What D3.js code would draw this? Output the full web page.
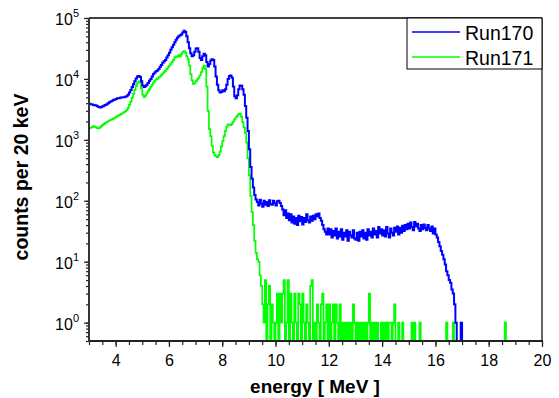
<!DOCTYPE html>
<html><head><meta charset="utf-8">
<script src="https://cdn.jsdelivr.net/npm/d3@7"></script>
<style>body{margin:0;background:#fff}svg{display:block}</style>
</head><body>
<svg id="c" width="559" height="398"></svg>
<script>
// bins: first bin energy and bin width (MeV)
const binStart = 3.0;
const binWidth = 0.05;
const seriesNames = ["Run170", "Run171"];
// Run170 counts per bin from 3.00 MeV
const run170 = [
3900,3850,3800,3750,3700,3650,3550,3450,3400,3450,
3550,3650,3750,3850,4000,4150,4250,4400,4500,4600,
4700,4800,4800,4900,4950,5000,5000,5100,5200,5500,
6000,6600,7400,8200,9200,10200,11000,11200,10800,9200,
7800,7400,7600,8000,8600,9300,10000,11000,12000,12800,
13400,13800,14500,15800,17000,18500,19500,20500,22500,24500,
27000,30000,33000,36500,40000,44000,47500,50000,52000,53500,
58000,61500,59000,50000,40000,32000,26500,23500,24500,28000,
31500,32000,28000,22000,20500,23500,26000,24500,19000,16000,
17500,20000,21000,20500,16000,11000,8000,6500,6000,6100,
6500,6300,6800,8000,10000,11200,11400,10500,7500,5200,
4800,5400,6800,7800,7700,6800,5500,3600,2300,1400,
700,360,230,165,125,105,96,84,104,90,
80,100,86,96,82,102,88,86,100,91,
84,98,100,92,82,72,58,70,52,62,
48,60,44,55,42,52,40,57,46,54,
41,52,45,60,48,44,55,47,57,50,
60,55,62,52,47,40,34,31,28,35,
28,34,25,32,27,35,24,31,26,34,
23,30,26,33,22,31,27,25,33,24,
23,30,22,31,26,33,24,30,23,34,
27,31,25,35,28,32,25,37,29,34,
27,33,26,37,29,25,35,30,27,36,
31,38,28,36,30,39,32,40,34,42,
35,44,37,33,45,38,42,35,32,40,
34,41,36,33,40,35,32,38,29,35,
28,25,21,18,15,13,11,9,7,6,
5,4.5,3.5,3,2,1,0,0,0,1,
0
];
// Run171 counts per bin from 3.00 MeV
const run171 = [
1550,1580,1620,1680,1650,1600,1560,1540,1600,1680,
1760,1830,1900,1960,2020,2080,2130,2180,2230,2300,
2380,2450,2520,2600,2680,2760,2850,2950,3100,3350,
3750,4250,4900,5700,6600,7600,8500,9100,8800,7000,
5500,5000,5300,5800,6300,6800,7400,8000,8700,9300,
9800,10100,10500,11000,11600,12200,12900,13600,14500,15500,
16500,17600,19000,20500,22500,23500,23000,24500,23500,25500,
27500,28500,27000,23500,21000,16500,12000,9500,8300,8500,
9200,9800,10500,11500,13000,15000,16600,14500,7500,3000,
1500,1150,800,620,560,540,520,560,640,780,
950,1150,1400,1650,1800,1780,1750,1850,2000,2200,
2350,2500,2650,2700,2400,1950,1600,1300,900,500,
260,120,65,40,22,14,11,10,6,4,
2,1,5,0,2,4,0,2,1,0,
1,3,0,3,1,3,5,0,1,5,
0,3,1,0,3,1,0,3,2,0,
3,1,0,2,1,0,4,5,0,1,
0,2,1,0,2,3,0,1,2,0,
2,0,1,2,0,2,1,0,2,0,
1,0,1,0,1,0,1,0,2,1,
0,1,0,1,0,1,0,1,0,1,
3,0,1,0,1,0,1,0,0,1,
0,1,0,1,0,1,1,0,1,2,
0,0,1,0,0,1,0,0,0,0,
0,0,1,0,1,0,0,0,1,0,
0,0,0,0,0,0,0,0,0,0,
0,0,0,0,0,0,0,0,1,0,
0,0,0,1,0,0,0,0,0,0,
0,0,0,0,0,0,0,0,0,0,
0,0,0,0,0,0,0,0,0,0,
0,0,0,0,0,0,0,0,0,0,
0,0,1,0
];
const xTickValues = [4, 6, 8, 10, 12, 14, 16, 18, 20];
const yTickExponents = [0, 1, 2, 3, 4, 5];
const colors = ["#0000ff", "#00ff00"];

const svg = d3.select("#c");
const L = 89, R = 542, T = 18, B = 341;
const x = d3.scaleLinear().domain([3, 20]).range([L, R]);
const y = d3.scaleLog().domain([0.5, 1e5]).range([B, T]);
const font = "Arial, 'Liberation Sans', sans-serif";

svg.append("defs").append("clipPath").attr("id", "clip")
  .append("rect").attr("x", L).attr("y", T).attr("width", R - L).attr("height", B - T);

const toPts = arr => arr.map((v, i) => [binStart + i * binWidth, v]);
const line = d3.line()
  .x(d => x(d[0]))
  .y(d => y(Math.max(d[1], 0.3)))
  .curve(d3.curveStepAfter);

const g = svg.append("g").attr("clip-path", "url(#clip)");
g.append("path").datum(toPts(run171)).attr("d", line)
  .attr("fill", "none").attr("stroke", colors[1]).attr("stroke-width", 1.7);
g.append("path").datum(toPts(run170)).attr("d", line)
  .attr("fill", "none").attr("stroke", colors[0]).attr("stroke-width", 2);

// frame top/right
svg.append("line").attr("x1", L).attr("x2", R).attr("y1", T).attr("y2", T)
  .attr("stroke", "#000").attr("stroke-width", 1.5);
svg.append("line").attr("x1", R).attr("x2", R).attr("y1", T).attr("y2", B)
  .attr("stroke", "#000").attr("stroke-width", 1.2);

// x axis
const xMinor = d3.range(3, 20.001, 0.5);
const xa = svg.append("g").attr("transform", `translate(0,${B})`);
xa.call(d3.axisBottom(x).tickValues(xMinor).tickSize(4).tickFormat(""))
  .call(s => s.select(".domain").remove());
xa.selectAll("line").attr("stroke", "#222").attr("stroke-width", 1.2);
const xm = svg.append("g").attr("transform", `translate(0,${B})`);
xm.call(d3.axisBottom(x).tickValues(xTickValues).tickSize(6).tickPadding(8).tickFormat(d3.format("d")))
  .call(s => s.select(".domain").remove());
xm.selectAll("line").attr("stroke", "#222").attr("stroke-width", 1.2);
xm.selectAll("text").attr("font-family", font).attr("font-size", 16).attr("fill", "#000");
svg.append("line").attr("x1", L - 1).attr("x2", R + 1).attr("y1", B).attr("y2", B)
  .attr("stroke", "#222").attr("stroke-width", 2);

// y axis
const yMinor = [];
for (let e = -1; e < 5; e++) for (let m = 1; m < 10; m++) {
  const v = m * Math.pow(10, e);
  if (v >= 0.5 && v <= 1e5) yMinor.push(v);
}
yMinor.push(1e5);
const ya = svg.append("g").attr("transform", `translate(${L},0)`);
ya.call(d3.axisLeft(y).tickValues(yMinor).tickSize(3).tickFormat(""))
  .call(s => s.select(".domain").remove());
ya.selectAll("line").attr("stroke", "#222").attr("stroke-width", 1.2);
const ym = svg.append("g").attr("transform", `translate(${L},0)`);
ym.call(d3.axisLeft(y).tickValues(yTickExponents.map(e => Math.pow(10, e))).tickSize(5).tickFormat(""))
  .call(s => s.select(".domain").remove());
ym.selectAll("line").attr("stroke", "#222").attr("stroke-width", 1.2);
svg.append("line").attr("x1", L).attr("x2", L).attr("y1", T).attr("y2", B + 1)
  .attr("stroke", "#333").attr("stroke-width", 2);

const yl = svg.append("g");
yTickExponents.forEach(e => {
  const t = yl.append("text").attr("x", 79).attr("y", y(Math.pow(10, e)) + 7)
    .attr("text-anchor", "end").attr("font-family", font).attr("fill", "#000");
  t.append("tspan").attr("font-size", 16).text("10");
  t.append("tspan").attr("font-size", 11).attr("dy", -8).text(String(e));
});

// titles
svg.append("text").attr("x", 315).attr("y", 393).attr("text-anchor", "middle")
  .attr("font-family", font).attr("font-weight", "bold").attr("font-size", 19).text("energy [ MeV ]");
svg.append("text").attr("transform", "translate(28,177) rotate(-90)").attr("text-anchor", "middle")
  .attr("font-family", font).attr("font-weight", "bold").attr("font-size", 19.5).text("counts per 20 keV");

// legend
const lg = svg.append("g");
lg.append("rect").attr("x", 407).attr("y", 18).attr("width", 135).attr("height", 51)
  .attr("fill", "#fff").attr("stroke", "#000").attr("stroke-width", 1);
seriesNames.forEach((n, i) => {
  const yy = 32 + i * 25;
  lg.append("line").attr("x1", 412).attr("x2", 460).attr("y1", yy).attr("y2", yy)
    .attr("stroke", colors[i]).attr("stroke-width", 1.5);
  lg.append("text").attr("x", 465).attr("y", yy + 7.5).attr("font-family", font)
    .attr("font-size", 19.5).attr("fill", "#000").text(n);
});
</script>
</body></html>
